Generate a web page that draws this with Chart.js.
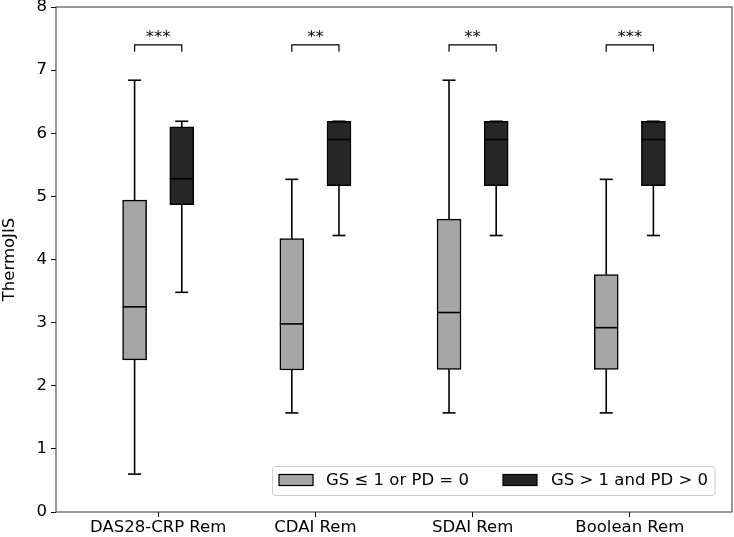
<!DOCTYPE html>
<html lang="en">
<head>
  <meta charset="UTF-8" />
  <title>ThermoJIS by remission criterion</title>
  <script src="https://cdn.jsdelivr.net/npm/chart.js@4.4.1/dist/chart.umd.min.js"></script>
  <style>
    body { margin: 0; background: white; }
    canvas { display: block; }
  </style>
</head>
<body>
  <canvas id="boxChart" width="734" height="537"></canvas>

  <script>
    // Remission criteria (x categories)
    const categories = ["DAS28-CRP Rem", "CDAI Rem", "SDAI Rem", "Boolean Rem"];
    const seriesNames = ["GS \u2264 1 or PD = 0", "GS > 1 and PD > 0"];

    // GS <= 1 or PD = 0 (light grey boxes)
    const lowMin = [0.60, 1.57, 1.57, 1.57];
    const lowQ1  = [2.41, 2.25, 2.26, 2.26];
    const lowMed = [3.25, 2.98, 3.16, 2.92];
    const lowQ3  = [4.94, 4.33, 4.64, 3.76];
    const lowMax = [6.84, 5.27, 6.84, 5.27];

    // GS > 1 and PD > 0 (dark boxes)
    const highMin = [3.48, 4.38, 4.38, 4.38];
    const highQ1  = [4.87, 5.17, 5.17, 5.17];
    const highMed = [5.28, 5.90, 5.90, 5.90];
    const highQ3  = [6.10, 6.19, 6.19, 6.19];
    const highMax = [6.19, 6.19, 6.19, 6.19];

    // significance marks between the two groups
    const stars = ["***", "**", "**", "***"];
    const bracketTop = 7.40;
    const bracketLeg = 7.29;
    const starLevel = 7.51;

    const yTicks = [0, 1, 2, 3, 4, 5, 6, 7, 8];

    const lightGrey = "#a6a6a6";
    const darkGrey = "#262626";
    const shift = 0.15;
    const boxPx = 24;
    const font = "DejaVu Sans";
    const fontSize = 16.5;

    const groups = [
      { name: seriesNames[0], color: lightGrey, dx: -shift, min: lowMin, q1: lowQ1, med: lowMed, q3: lowQ3, max: lowMax },
      { name: seriesNames[1], color: darkGrey, dx: shift, min: highMin, q1: highQ1, med: highMed, q3: highQ3, max: highMax }
    ];

    // whiskers, medians, brackets, frame and legend drawn through the chart scales
    const boxExtras = {
      id: "boxExtras",
      afterDatasetsDraw(chart) {
        const ctx = chart.ctx;
        const xs = chart.scales.x;
        const ys = chart.scales.y;
        const area = chart.chartArea;
        const boxHalf = boxPx / 2;
        const capHalf = boxHalf / 2 + 0.5;
        const line = (x1, y1, x2, y2) => {
          ctx.beginPath(); ctx.moveTo(x1, y1); ctx.lineTo(x2, y2); ctx.stroke();
        };

        ctx.save();
        ctx.strokeStyle = "black";
        ctx.lineWidth = 1.6;
        groups.forEach(g => {
          categories.forEach((c, i) => {
            const x = xs.getPixelForValue(i + 1 + g.dx);
            const yMax = ys.getPixelForValue(g.max[i]);
            const yMin = ys.getPixelForValue(g.min[i]);
            // whiskers and caps
            line(x, ys.getPixelForValue(g.q3[i]), x, yMax);
            line(x, ys.getPixelForValue(g.q1[i]), x, yMin);
            line(x - capHalf, yMax, x + capHalf, yMax);
            line(x - capHalf, yMin, x + capHalf, yMin);
            // median
            const yMed = ys.getPixelForValue(g.med[i]);
            line(x - boxHalf, yMed, x + boxHalf, yMed);
          });
        });

        // significance brackets
        ctx.lineWidth = 1.2;
        ctx.fillStyle = "black";
        ctx.font = fontSize + "px '" + font + "'";
        ctx.textAlign = "center";
        ctx.textBaseline = "middle";
        categories.forEach((c, i) => {
          const x1 = xs.getPixelForValue(i + 1 - shift);
          const x2 = xs.getPixelForValue(i + 1 + shift);
          const yt = ys.getPixelForValue(bracketTop);
          const yl = ys.getPixelForValue(bracketLeg);
          ctx.beginPath();
          ctx.moveTo(x1, yl); ctx.lineTo(x1, yt); ctx.lineTo(x2, yt); ctx.lineTo(x2, yl);
          ctx.stroke();
          ctx.fillText(stars[i], (x1 + x2) / 2, ys.getPixelForValue(starLevel));
        });

        // axes frame
        ctx.strokeStyle = "#333";
        ctx.lineWidth = 1;
        ctx.strokeRect(area.left, area.top, area.right - area.left, area.bottom - area.top);

        // legend, lower right inside the axes
        const lx = 272.5, ly = 466.5, lw = 442.5, lh = 29;
        ctx.beginPath();
        ctx.roundRect(lx, ly, lw, lh, 3);
        ctx.fillStyle = "rgba(255,255,255,0.8)";
        ctx.fill();
        ctx.strokeStyle = "#cccccc";
        ctx.stroke();
        const entries = [{ px: 279, tx: 326 }, { px: 503, tx: 551 }];
        ctx.textAlign = "left";
        entries.forEach((e, k) => {
          ctx.fillStyle = groups[k].color;
          ctx.fillRect(e.px, 474.5, 34, 11);
          ctx.strokeStyle = "black";
          ctx.lineWidth = 1.2;
          ctx.strokeRect(e.px, 474.5, 34, 11);
          ctx.fillStyle = "black";
          ctx.fillText(groups[k].name, e.tx, 481);
        });
        ctx.restore();
      }
    };

    const datasets = groups.map(g => ({
      label: g.name,
      data: categories.map((c, i) => ({ x: i + 1 + g.dx, y: [g.q1[i], g.q3[i]] })),
      backgroundColor: g.color,
      borderColor: "black",
      borderWidth: 1.5,
      borderSkipped: false,
      barThickness: boxPx,
      grouped: false
    }));

    new Chart(document.getElementById("boxChart"), {
      type: "bar",
      data: { datasets: datasets },
      options: {
        responsive: false,
        animation: false,
        layout: { padding: { top: 7, right: 2, left: 0, bottom: 0 } },
        plugins: {
          legend: { display: false },
          tooltip: { enabled: false }
        },
        scales: {
          x: {
            type: "linear",
            offset: false,
            min: 0.35,
            max: 4.65,
            afterBuildTicks: scale => { scale.ticks = categories.map((c, i) => ({ value: i + 1 })); },
            afterFit: scale => {
              scale.height = 25;
              scale.paddingLeft = 0;
              scale.paddingRight = 0;
            },
            ticks: {
              callback: v => categories[v - 1],
              color: "black",
              font: { family: font, size: fontSize },
              padding: 1,
              maxRotation: 0,
              autoSkip: false
            },
            grid: { drawOnChartArea: false, offset: false, tickLength: 5, color: "black" },
            border: { display: false }
          },
          y: {
            min: 0,
            max: 8,
            afterBuildTicks: scale => { scale.ticks = yTicks.map(v => ({ value: v })); },
            afterFit: scale => {
              scale.width = 56;
              scale.paddingTop = 0;
              scale.paddingBottom = 0;
            },
            ticks: {
              color: "black",
              font: { family: font, size: fontSize },
              padding: 4
            },
            grid: { drawOnChartArea: false, tickLength: 5, color: "black" },
            border: { display: false },
            title: {
              display: true,
              text: "ThermoJIS",
              color: "black",
              font: { family: font, size: fontSize },
              padding: 0
            }
          }
        }
      },
      plugins: [boxExtras]
    });
  </script>
</body>
</html>
